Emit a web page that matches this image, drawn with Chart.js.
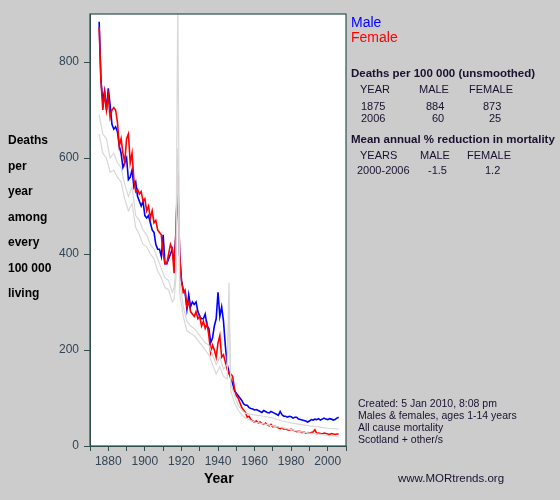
<!DOCTYPE html>
<html><head><meta charset="utf-8">
<script src="https://cdn.jsdelivr.net/npm/chart.js@4"></script>
<style>
body{margin:0;background:#cccccc;font-family:"Liberation Sans",Arial,sans-serif;}
#wrap{position:relative;width:560px;height:500px;}
canvas{position:absolute;left:0;top:0;}
.t{position:absolute;font-size:11px;color:#1a1030;white-space:pre;}
.b{font-weight:bold;}
.r{text-align:right;width:40px;}
</style></head><body>
<div id="wrap">
<canvas id="c" width="560" height="500"></canvas>
<div class="t b" style="left:8px;top:128px;line-height:25.5px;font-size:12px;color:#000">Deaths
per
year
among
every
100 000
living</div>
<div class="t b" style="left:204px;top:470px;font-size:14px;color:#000">Year</div>
<div class="t" style="left:351px;top:14px;font-size:14px;color:#0000ff">Male</div>
<div class="t" style="left:351px;top:29px;font-size:14px;color:#ff0000">Female</div>
<div class="t b" style="left:351px;top:67px;font-size:11.5px">Deaths per 100 000 (unsmoothed)</div>
<div class="t" style="left:360px;top:83px">YEAR</div>
<div class="t" style="left:419px;top:83px">MALE</div>
<div class="t" style="left:469px;top:83px">FEMALE</div>
<div class="t" style="left:361px;top:100px">1875</div>
<div class="t" style="left:426px;top:100px">884</div>
<div class="t" style="left:483px;top:100px">873</div>
<div class="t" style="left:361px;top:112px">2006</div>
<div class="t" style="left:432px;top:112px">60</div>
<div class="t" style="left:489px;top:112px">25</div>
<div class="t b" style="left:351px;top:133px;font-size:11.5px">Mean annual % reduction in mortality</div>
<div class="t" style="left:360px;top:149px">YEARS</div>
<div class="t" style="left:420px;top:149px">MALE</div>
<div class="t" style="left:467px;top:149px">FEMALE</div>
<div class="t" style="left:357px;top:164px">2000-2006</div>
<div class="t" style="left:428px;top:164px">-1.5</div>
<div class="t" style="left:485px;top:164px">1.2</div>
<div class="t" style="left:358px;top:397px;font-size:10.5px;line-height:12px">Created: 5 Jan 2010, 8:08 pm
Males &amp; females, ages 1-14 years
All cause mortality
Scotland + other/s</div>
<div class="t" style="left:398px;top:472px;font-size:11.5px">www.MORtrends.org</div>
</div>
<script>
const years = [];
for (let y = 1875; y <= 2006; y++) years.push(y);
const male = [884,760,720,740,700,745,710,670,660,665,655,625,610,580,590,600,555,560,575,540,
550,520,510,500,510,480,475,480,465,450,445,420,410,410,395,440,380,380,390,400,
410,380,440,560,400,345,325,320,285,315,290,300,295,300,280,270,265,265,275,250,
245,215,225,250,265,320,270,290,260,210,170,155,140,130,115,110,105,100,95,88,
85,85,80,78,77,75,76,74,72,70,74,72,70,69,72,70,68,66,64,72,
65,62,62,60,62,61,58,60,60,56,55,54,53,52,50,52,55,54,56,55,
57,54,56,58,56,55,57,56,54,55,58,60];
const female = [873,760,700,735,700,730,685,700,705,700,675,625,640,610,590,640,650,590,610,555,
530,535,525,530,510,515,490,500,475,490,465,470,450,445,440,400,380,380,400,420,
410,360,450,570,400,345,320,325,290,300,280,275,270,280,265,270,250,260,245,255,
230,195,210,200,185,215,230,185,190,175,160,150,150,145,120,105,100,90,80,75,
70,60,62,55,52,50,52,48,50,47,45,48,44,42,45,40,41,40,38,36,
38,35,36,34,33,35,33,32,30,31,30,28,29,27,28,27,28,29,34,26,
27,26,25,27,26,25,24,26,25,24,25,25];
const greyYears = [1875,1877,1879,1881,1883,1885,1887,1889,1891,1893,1895,1897,1899,1901,1903,1905,1907,1909,1911,1913,1915,1916,1917,1918,1919,1921,1923,1925,1927,1929,1931,1933,1935,1937,1939,1941,1943,1945,1946,1947,1949,1951,1953,1955,1960,1965,1970,1975,1980,1985,1990,1995,2000,2006];
const grey1 = [690,650,640,600,610,590,580,545,520,540,480,470,450,440,420,410,390,370,350,345,320,330,370,930,350,290,260,250,245,235,225,215,210,190,170,185,160,170,340,130,105,85,75,68,65,62,58,52,48,45,42,40,37,35];
const grey2 = [650,610,600,570,575,560,550,515,490,505,455,440,420,415,400,390,365,350,330,325,300,305,350,620,320,270,240,235,230,220,210,200,190,170,150,165,145,140,290,115,90,75,65,58,50,46,42,38,34,30,27,25,22,20];

const toXY = (xs, ys) => xs.map((x, i) => ({x, y: ys[i]}));
const ds = (data, color, w) => ({data, borderColor: color, borderWidth: w, pointRadius: 0, fill: false, tension: 0});

new Chart(document.getElementById('c'), {
  type: 'line',
  data: { datasets: [
    ds(toXY(greyYears, grey1), '#d8d8d8', 1.2),
    ds(toXY(greyYears, grey2), '#d8d8d8', 1.2),
    ds(toXY(years, female), '#ff0000', 1.6),
    ds(toXY(years, male), '#0000ff', 1.6)
  ]},
  plugins: [{
    id: 'bg',
    beforeDraw(ch) {
      const a = ch.chartArea, c = ch.ctx;
      c.save(); c.fillStyle = '#fff'; c.fillRect(a.left, a.top, a.right - a.left, a.bottom - a.top); c.restore();
    },
    afterDraw(ch) {
      const a = ch.chartArea, c = ch.ctx;
      c.save(); c.strokeStyle = '#2f4f4f'; c.lineWidth = 1.2;
      c.strokeRect(a.left, a.top, a.right - a.left, a.bottom - a.top); c.restore();
    }
  }],
  options: {
    responsive: false, animation: false,
    layout: { padding: { left: 0, right: 214, top: 14, bottom: 0 } },
    plugins: { legend: { display: false }, tooltip: { enabled: false } },
    scales: {
      x: {
        type: 'linear', min: 1870, max: 2010,
        ticks: { stepSize: 10, color: '#334455', font: { size: 12, family: 'Liberation Sans' }, maxRotation: 0, autoSkip: false,
          callback: v => (v % 20 === 0 ? String(v) : '') },
        grid: { drawOnChartArea: false, color: '#2f4f4f', tickLength: 5 },
        border: { color: '#2f4f4f' },
        afterFit: s => { s.height = 54; }
      },
      y: {
        min: 0, max: 900,
        afterBuildTicks: s => { s.ticks = [0,200,400,600,800].map(v => ({value: v})); },
        ticks: { color: '#334455', font: { size: 12, family: 'Liberation Sans' }, padding: 5 },
        grid: { drawOnChartArea: false, color: '#2f4f4f', tickLength: 6 },
        border: { color: '#2f4f4f' },
        afterFit: s => { s.width = 90; }
      }
    }
  }
});
</script>
</body></html>
